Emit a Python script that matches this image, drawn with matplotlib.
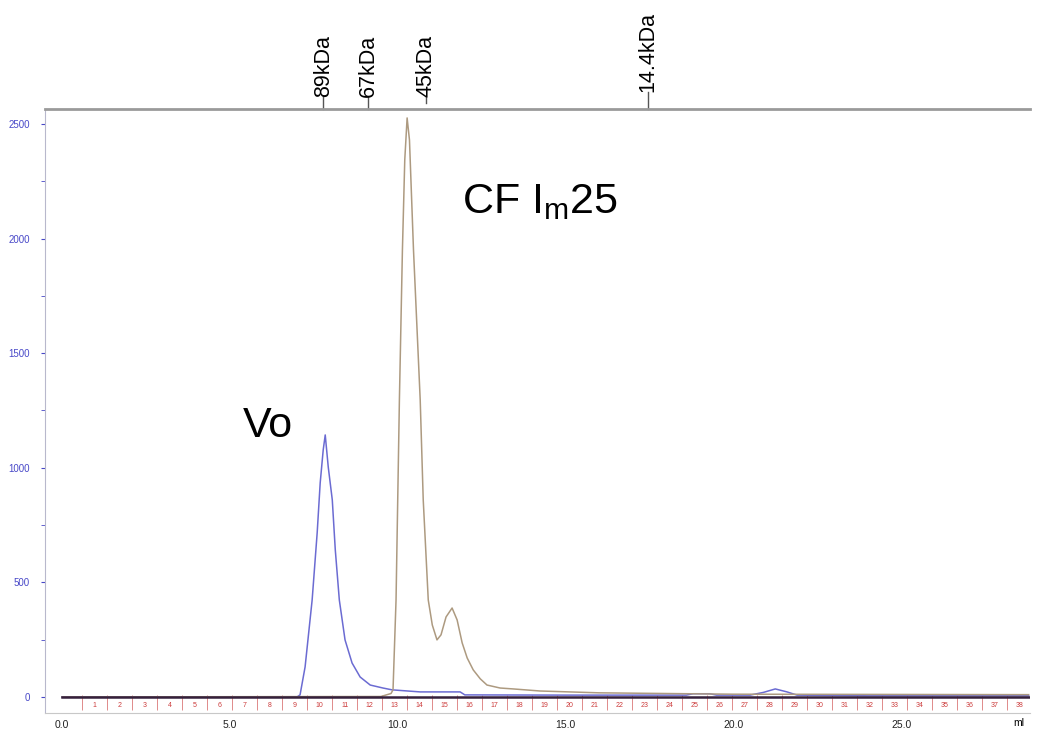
import matplotlib.pyplot as plt

plt.rcParams['font.family'] = ['Liberation Sans', 'DejaVu Sans']

# Vo (blue dextran) trace
vo_ml = [0.0, 6.6, 7.00, 7.09, 7.24, 7.45, 7.60, 7.69, 7.78, 7.84, 7.93, 8.05, 8.14, 8.26,
         8.43, 8.64, 8.88, 9.18, 9.56, 9.83, 10.67, 11.86, 12.0, 15.0, 18.6, 18.8, 19.3,
         19.5, 20.5, 20.9, 21.25, 21.6, 21.9, 24.0, 28.8]
vo_mau = [0, 0, 0, 9, 131, 423, 716, 934, 1078, 1143, 1003, 860, 641, 423,
          249, 148, 87, 52, 39, 31, 22, 22, 9, 8, 8, 14, 14,
          8, 8, 20, 35, 22, 8, 5, 5]

# CF Im25 trace
cf_ml = [0.0, 9.5, 9.80, 9.86, 9.95, 10.05, 10.14, 10.21, 10.28, 10.35, 10.47, 10.67, 10.76,
         10.91, 11.03, 11.17, 11.29, 11.44, 11.62, 11.77, 11.92, 12.07, 12.25, 12.46, 12.66,
         13.05, 13.44, 14.24, 16.0, 20.0, 28.8]
cf_mau = [0, 2, 15, 31, 423, 1296, 1950, 2343, 2526, 2430, 1950, 1296, 860,
          423, 314, 249, 271, 349, 388, 336, 236, 170, 118, 79, 52,
          39, 35, 26, 18, 12, 10]

# molecular weight markers (elution volume, ml)
marker_names = ['89kDa', '67kDa', '45kDa', '14.4kDa']
marker_ml = [7.78, 9.12, 10.85, 17.46]

# fractions
frac_labels = list(range(1, 39))
frac_start = 0.6
frac_width = 0.745

xticks = [0, 5, 10, 15, 20, 25]
xtick_labels = ['0.0', '5.0', '10.0', '15.0', '20.0', '25.0']
yticks = [0, 500, 1000, 1500, 2000, 2500]

fig = plt.figure(figsize=(10.44, 7.30), dpi=100)
ax = fig.add_axes([45 / 1044, 17 / 730, 985 / 1044, 604 / 730])

ax.plot(vo_ml, vo_mau, color='#6b6bd2', lw=1.1, zorder=3)
ax.plot(cf_ml, cf_mau, color='#ad9a80', lw=1.1, zorder=3)
ax.plot([0, 28.8], [0, 0], color='#35203c', lw=1.8, zorder=4)

# fraction marks and numbers
bounds = [frac_start + frac_width * i for i in range(len(frac_labels) + 1)]
ax.vlines(bounds, -58, 10, color='#e08a8a', lw=0.7, zorder=2)
for i, lab in enumerate(frac_labels):
    ax.text(bounds[i] + frac_width / 2, -36, str(lab), color='#cc3c3c', fontsize=5,
            ha='center', va='center')

# markers on top
tr = ax.get_xaxis_transform()
tick_bottom = [1.0, 1.0, 1.0099, 1.0]
text_bottom = [1.0199, 1.0199, 1.0199, 1.0281]
for name, x, tb, yb in zip(marker_names, marker_ml, tick_bottom, text_bottom):
    ax.plot([x, x], [tb, yb], color='#555555', lw=1, transform=tr, clip_on=False)
    ax.text(x, yb, name, rotation=90, ha='center', va='bottom', fontsize=15.5,
            transform=tr)

ax.text(5.39, 1134, 'Vo', fontsize=31, ha='left', va='baseline')
ax.text(11.92, 2112, r'CF I$_{\mathregular{m}}$25', fontsize=31, ha='left', va='baseline')

ax.set_xlim(-0.51, 28.84)
ax.set_ylim(-70, 2565)
ax.set_xticks(xticks)
ax.set_xticklabels(xtick_labels)
ax.set_yticks(yticks)
ax.set_yticks([250, 750, 1250, 1750, 2250], minor=True)
ax.tick_params(axis='x', length=0, pad=5, labelsize=7.5, colors='#222222')
ax.tick_params(axis='y', which='both', length=3, pad=8, labelsize=7, colors='#4848c8')
ax.text(28.5, -0.016, 'ml', transform=tr, fontsize=7.5, ha='center', va='center')

ax.spines['right'].set_visible(False)
ax.spines['top'].set_color('#9a9a9a')
ax.spines['top'].set_linewidth(2)
ax.spines['left'].set_color('#b8b8cc')
ax.spines['bottom'].set_color('#c8c8c8')

fig.savefig('out.png', dpi=100)
